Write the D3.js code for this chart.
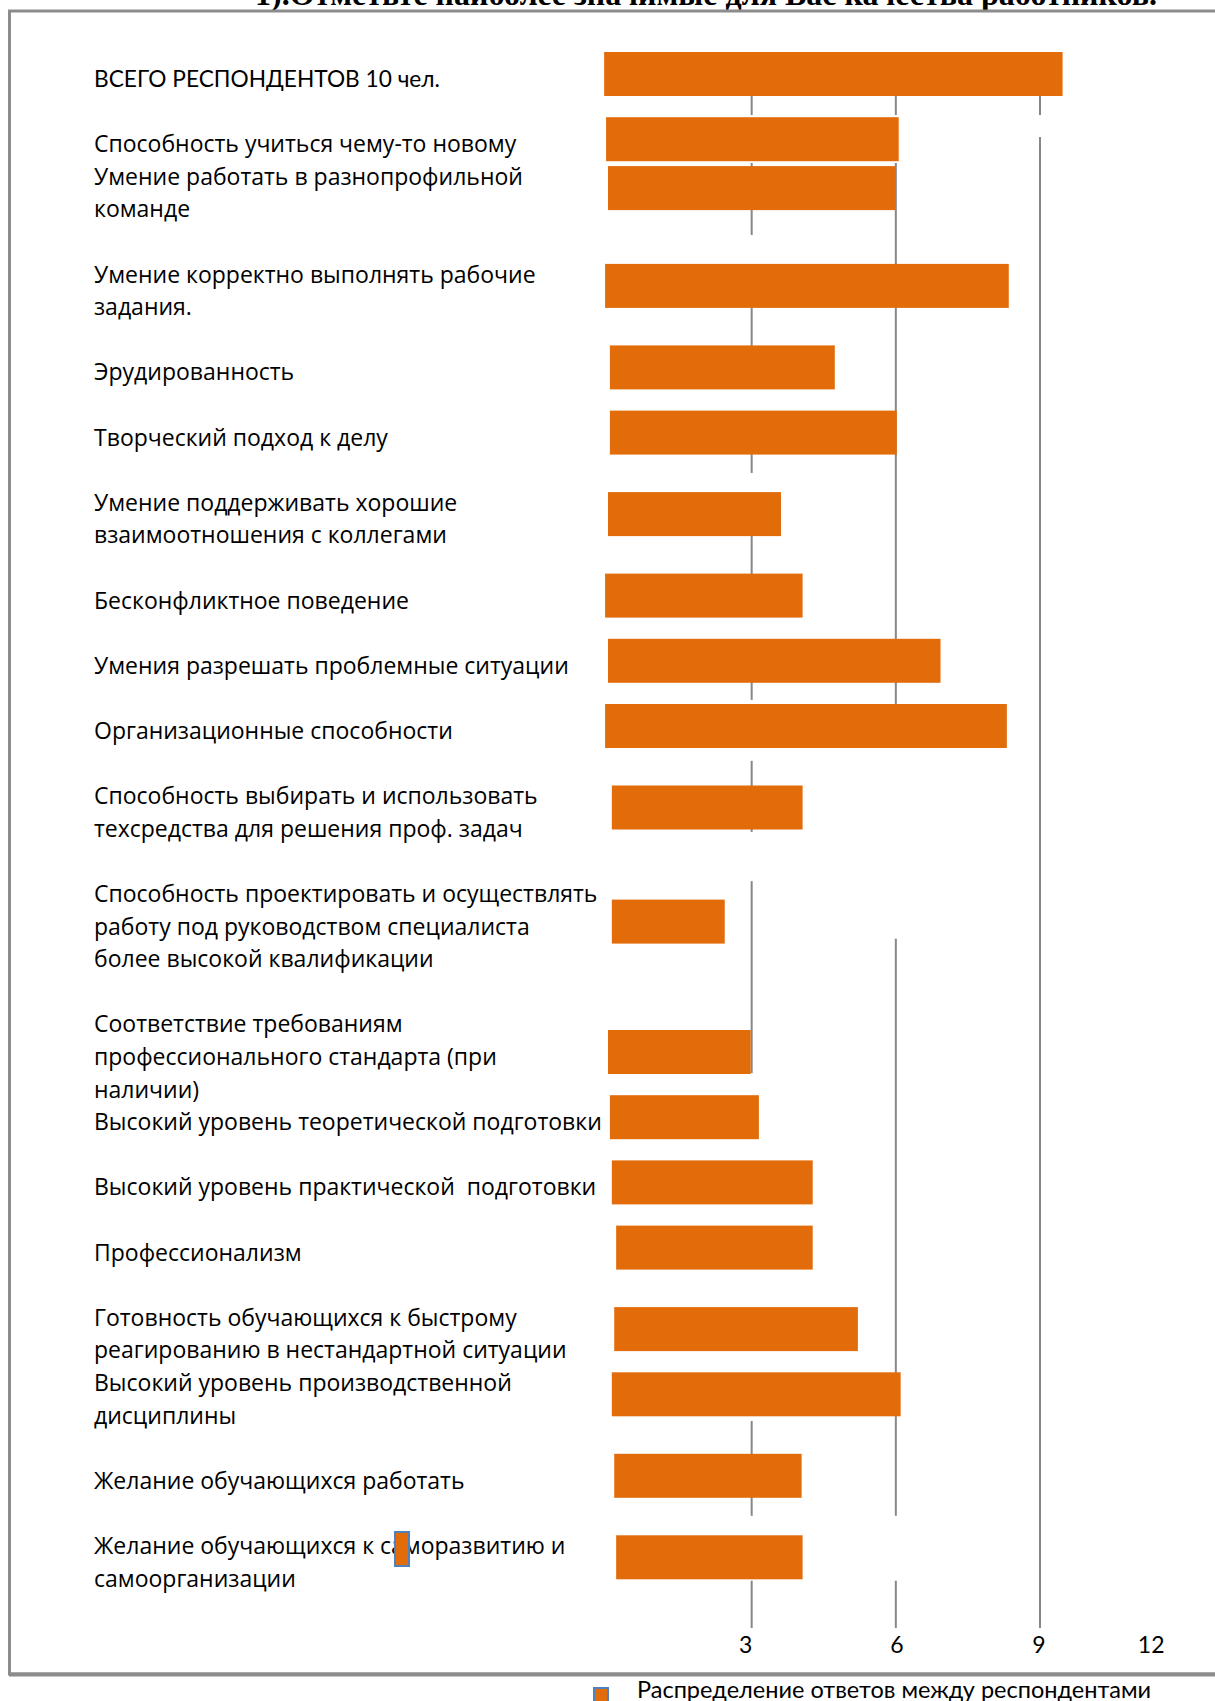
<!DOCTYPE html>
<html>
<head>
<meta charset="utf-8">
<script src="https://cdn.jsdelivr.net/npm/d3@7"></script>
<style>
  body { margin: 0; background: #fff; }
  text { white-space: pre; }
</style>
</head>
<body>
<div id="chart"></div>
<script>

// labels, one array per category (line breaks as in the picture)
var labels = [
    ["ВСЕГО РЕСПОНДЕНТОВ 10 чел."],
    ["Способность учиться чему-то новому"],
    ["Умение работать в разнопрофильной", "команде"],
    ["Умение корректно выполнять рабочие", "задания."],
    ["Эрудированность"],
    ["Творческий подход к делу"],
    ["Умение поддерживать хорошие", "взаимоотношения с коллегами"],
    ["Бесконфликтное поведение"],
    ["Умения разрешать проблемные ситуации"],
    ["Организационные способности"],
    ["Способность выбирать и использовать", "техсредства для решения проф. задач"],
    ["Способность проектировать и осуществлять", "работу под руководством специалиста", "более высокой квалификации"],
    ["Соответствие требованиям", "профессионального стандарта (при", "наличии)"],
    ["Высокий уровень теоретической подготовки"],
    ["Высокий уровень практической  подготовки"],
    ["Профессионализм"],
    ["Готовность обучающихся к быстрому", "реагированию в нестандартной ситуации"],
    ["Высокий уровень производственной", "дисциплины"],
    ["Желание обучающихся работать"],
    ["Желание обучающихся к саморазвитию и", "самоорганизации"]
];
// empty text lines after each label
var blank_after = [1, 0, 1, 1, 1, 1, 1, 1, 1, 1, 1, 1, 0, 1, 1, 1, 0, 1, 1, 0];

// bar values (where each bar ends) and where it starts, in answers
var values = [9.47, 6.06, 5.99, 8.35, 4.73, 6.02, 3.61, 4.06, 6.93, 8.31,
              4.06, 2.44, 2.98, 3.15, 4.27, 4.27, 5.21, 6.10, 4.04, 4.06];
var starts = [-0.07, -0.03, 0.01, -0.05, 0.05, 0.05, 0.01, -0.05, 0.01, -0.05,
              0.09, 0.09, 0.01, 0.05, 0.09, 0.18, 0.14, 0.09, 0.14, 0.18];

var grid_ticks = [3, 6, 9];
var tick_labels = [3, 6, 9, 12];
// visible pieces of each grid line, in text-line units
var grid_segments = {
    3: [[0.25, 0.86], [2.33, 4.54], [6.75, 8.93], [10.61, 11.84], [13.53, 15.37],
        [18.04, 18.8], [20.67, 22.85], [24.36, 30.25], [40.92, 43.83], [45.82, 47.27]],
    6: [[0.25, 0.86], [2.33, 20.09], [26.13, 43.83], [45.82, 47.27]],
    9: [[0.25, 0.86], [1.53, 47.27]]
};

var title = "1).Отметьте наиболее значимые для Вас качества работников.";
var legend_label = "Распределение ответов между респондентами";

var ORANGE = '#e36c0a';
var GRID = '#878787';
var W = 1215, H = 1701;

var svg = d3.select('#chart').append('svg')
    .attr('width', W)
    .attr('height', H);

// baseline of text line k
var sy = d3.scaleLinear().domain([0, 1]).range([87, 119.6]);
var sx = d3.scaleLinear().domain([0, 9]).range([607.5, 1040]);

// title, mostly cut off by the top of the picture
svg.append('text')
    .attr('x', 255)
    .attr('y', 5)
    .attr('font-family', 'Liberation Serif')
    .attr('font-weight', 'bold')
    .attr('font-size', 32)
    .text(title);

// frame
svg.append('rect')
    .attr('x', 9.5)
    .attr('y', 11)
    .attr('width', W + 20)
    .attr('height', 1663)
    .attr('fill', 'none')
    .attr('stroke', '#8c8c8c')
    .attr('stroke-width', 3);
svg.append('line')
    .attr('x1', 9).attr('x2', W)
    .attr('y1', 1674.5).attr('y2', 1674.5)
    .attr('stroke', '#8c8c8c')
    .attr('stroke-width', 4);

// line index of the first line of each label
var first_line = [];
var k = 0;
labels.forEach(function(l, i) {
    first_line.push(k);
    k += l.length + blank_after[i];
});

// grid lines
grid_ticks.forEach(function(t) {
    svg.append('g').selectAll('line')
        .data(grid_segments[t])
        .enter().append('line')
        .attr('x1', sx(t)).attr('x2', sx(t))
        .attr('y1', function(d) { return sy(d[0]); })
        .attr('y2', function(d) { return sy(d[1]); })
        .attr('stroke', GRID)
        .attr('stroke-width', 2);
});

var BAR_H = 44;
function bar_center(i) {
    var a = first_line[i], b = a + labels[i].length - 1;
    return (sy(a) + sy(b)) / 2 - 13;
}

svg.append('g').selectAll('rect')
    .data(values)
    .enter().append('rect')
    .attr('x', function(d, i) { return sx(starts[i]); })
    .attr('y', function(d, i) { return bar_center(i) - BAR_H / 2; })
    .attr('width', function(d, i) { return sx(d) - sx(starts[i]); })
    .attr('height', BAR_H)
    .attr('fill', ORANGE);

// category labels
var lab = svg.append('g');
labels.forEach(function(l, i) {
    l.forEach(function(line, j) {
        lab.append('text')
            .attr('class', 'lab' + i)
            .attr('x', 94)
            .attr('y', sy(first_line[i] + j))
            .attr('font-family', i == 0 ? 'Lato' : 'Open Sans')
            .attr('font-size', i == 0 ? 22.7 : 23)
            .attr('fill', '#000')
            .text(line);
    });
});

// tick labels along the bottom
var tick_dx = {3: -6, 6: 1, 9: -1, 12: -33};
svg.append('g').selectAll('text')
    .data(tick_labels)
    .enter().append('text')
    .attr('x', function(d) { return sx(d) + tick_dx[d]; })
    .attr('y', sy(48.05))
    .attr('text-anchor', 'middle')
    .attr('font-family', 'Lato')
    .attr('font-size', 23)
    .text(function(d) { return d; });

// legend below the frame
svg.append('rect')
    .attr('x', 594).attr('y', 1688)
    .attr('width', 14).attr('height', 20)
    .attr('fill', ORANGE)
    .attr('stroke', '#4f81bd')
    .attr('stroke-width', 2);
svg.append('text')
    .attr('x', 637)
    .attr('y', 1698)
    .attr('font-family', 'Lato')
    .attr('font-size', 23.5)
    .text(legend_label);

// stray legend key that sits on the last label
var last = lab.select('text.lab19').node();
var p = last.getStartPositionOfChar(23);
svg.append('rect')
    .attr('x', p.x + 4)
    .attr('y', p.y - 22)
    .attr('width', 14)
    .attr('height', 34)
    .attr('fill', ORANGE)
    .attr('stroke', '#4f81bd')
    .attr('stroke-width', 2);

</script>
</body>
</html>
